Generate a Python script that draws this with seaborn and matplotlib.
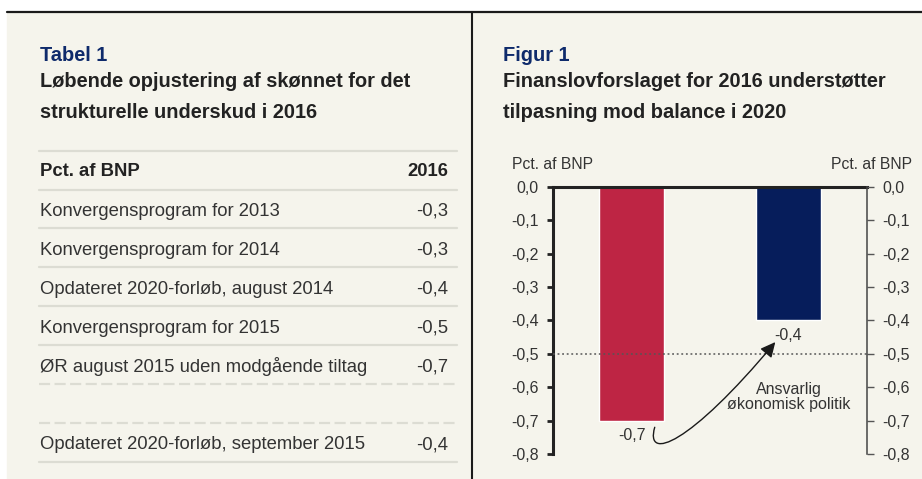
import matplotlib
matplotlib.use("Agg")
import matplotlib.pyplot as plt
import seaborn as sns
from matplotlib.patches import Rectangle, FancyArrowPatch
from matplotlib.path import Path

# data
table_title = "Tabel 1"
table_subtitle = ["Løbende opjustering af skønnet for det", "strukturelle underskud i 2016"]
table_header = ["Pct. af BNP", "2016"]
table_rows = ["Konvergensprogram for 2013", "Konvergensprogram for 2014",
              "Opdateret 2020-forløb, august 2014", "Konvergensprogram for 2015",
              "ØR august 2015 uden modgående tiltag", "",
              "Opdateret 2020-forløb, september 2015"]
table_values = ["-0,3", "-0,3", "-0,4", "-0,5", "-0,7", "", "-0,4"]

fig_title = "Figur 1"
fig_subtitle = ["Finanslovforslaget for 2016 understøtter", "tilpasning mod balance i 2020"]
categories = ["ØR august 2015", "Finanslovforslag 2016"]
values = [-0.7, -0.4]
bar_colors = ["#be2544", "#061d5b"]
yticks = [0.0, -0.1, -0.2, -0.3, -0.4, -0.5, -0.6, -0.7, -0.8]
ref_level = -0.5
note = "Ansvarlig\nøkonomisk politik"

BG = "#f5f4ec"
NAVY = "#0e2a6b"
DARK = "#222222"
TXT = "#333333"

sns.set_theme(style="white")
plt.rcParams['font.family'] = ['Liberation Sans', 'DejaVu Sans']

fig = plt.figure(figsize=(9.22, 4.79), dpi=100, facecolor="white")

# background layer in pixel coordinates
bg = fig.add_axes([0, 0, 1, 1])
bg.set_xlim(0, 922)
bg.set_ylim(479, 0)
bg.axis("off")
bg.add_patch(Rectangle((7, 11.5), 915, 468, color=BG, zorder=0))
bg.plot([7, 922], [11.5, 11.5], color="#1a1a1a", lw=1.6)
bg.plot([471.7, 471.7], [11.5, 479], color="#1a1a1a", lw=1.5)

# table panel
bg.text(40, 60.7, table_title, color=NAVY, fontsize=14.4, fontweight="bold")
for i, line in enumerate(table_subtitle):
    bg.text(40, 87.3 + 30.5 * i, line, color=DARK, fontsize=14.4, fontweight="bold")

bg.plot([39, 457], [151, 151], color="#dcdcd3", lw=1.6)
bg.text(40, 176, table_header[0], color=DARK, fontsize=13.3, fontweight="bold")
bg.text(448, 176, table_header[1], color=DARK, fontsize=13.3, fontweight="bold", ha="right")
row_h = 38.9
for i, (name, val) in enumerate(zip(table_rows, table_values)):
    line_y = 189.5 + row_h * i
    dashed = i in (5, 6)
    bg.plot([39, 457], [line_y, line_y], color="#dcdcd3", lw=1.6,
            ls=(0, (5, 2)) if dashed else "-")
    bg.text(40, line_y + 26.5, name, color=TXT, fontsize=13.3)
    bg.text(448, line_y + 26.5, val, color=TXT, fontsize=13.3, ha="right")
bg.plot([39, 457], [189.5 + row_h * 7, 189.5 + row_h * 7], color="#dcdcd3", lw=1.6)

# figure panel titles
bg.text(503, 60.7, fig_title, color=NAVY, fontsize=14.4, fontweight="bold")
for i, line in enumerate(fig_subtitle):
    bg.text(503, 87.3 + 30.5 * i, line, color=DARK, fontsize=14.4, fontweight="bold")
bg.text(512, 169, "Pct. af BNP", color=TXT, fontsize=11.3)
bg.text(912, 169, "Pct. af BNP", color=TXT, fontsize=11.3, ha="right")

# bar chart
ax = fig.add_axes([553 / 922, 25 / 479, 314 / 922, 267.3 / 479])
ax.set_facecolor("none")
sns.barplot(x=categories, y=values, hue=categories, palette=bar_colors,
            width=0.41, saturation=1, legend=False, ax=ax, zorder=2)
ax.set_xlim(-0.5, 1.5)
ax.set_ylim(-0.8, 0)
ax.axhline(ref_level, color="#555555", ls=(0, (1.2, 1.8)), lw=1.1, zorder=3)

ylabels = [f"{t:.1f}".replace(".", ",") for t in yticks]
ax.set_yticks(yticks)
ax.set_yticklabels(ylabels)
ax.set_xticks([])
ax.set_xlabel("")
ax.set_ylabel("")
ax.tick_params(axis="y", direction="out", length=4, width=2, pad=6.5,
               labelsize=11.5, color=DARK, labelcolor=TXT, left=True)
for s in ["right", "bottom"]:
    ax.spines[s].set_visible(False)
ax.spines["left"].set_linewidth(2.2)
ax.spines["left"].set_color(DARK)
ax.spines["top"].set_linewidth(2.2)
ax.spines["top"].set_color(DARK)

ax2 = ax.twinx()
ax2.set_ylim(-0.8, 0)
ax2.set_yticks(yticks)
ax2.set_yticklabels(ylabels)
ax2.tick_params(axis="y", direction="out", length=5, width=1, pad=6,
                labelsize=11.5, color="#555555", labelcolor=TXT, right=True)
for s in ["left", "top", "bottom"]:
    ax2.spines[s].set_visible(False)
ax2.spines["right"].set_linewidth(1.1)
ax2.spines["right"].set_color("#444444")

for i, v in enumerate(values):
    ax.annotate(f"{v:.1f}".replace(".", ","), (i, v), xytext=(0, -10.8),
                textcoords="offset points", ha="center", va="center",
                fontsize=11.5, color=TXT)

ax.text(1.0, -0.63, note, ha="center", va="center", fontsize=11.5,
        color=TXT, linespacing=1.05)

arrow_path = Path([(0.148, -0.72), (0.084, -0.824), (0.37, -0.773), (0.916, -0.465)],
                  [Path.MOVETO, Path.CURVE4, Path.CURVE4, Path.CURVE4])
arrow = FancyArrowPatch(path=arrow_path, arrowstyle="-|>,head_length=0.45,head_width=0.22",
                        mutation_scale=20, color="#1a1a1a", lw=1.0, clip_on=False, zorder=4)
ax.add_patch(arrow)

fig.savefig("out.png", dpi=100, facecolor="white")
